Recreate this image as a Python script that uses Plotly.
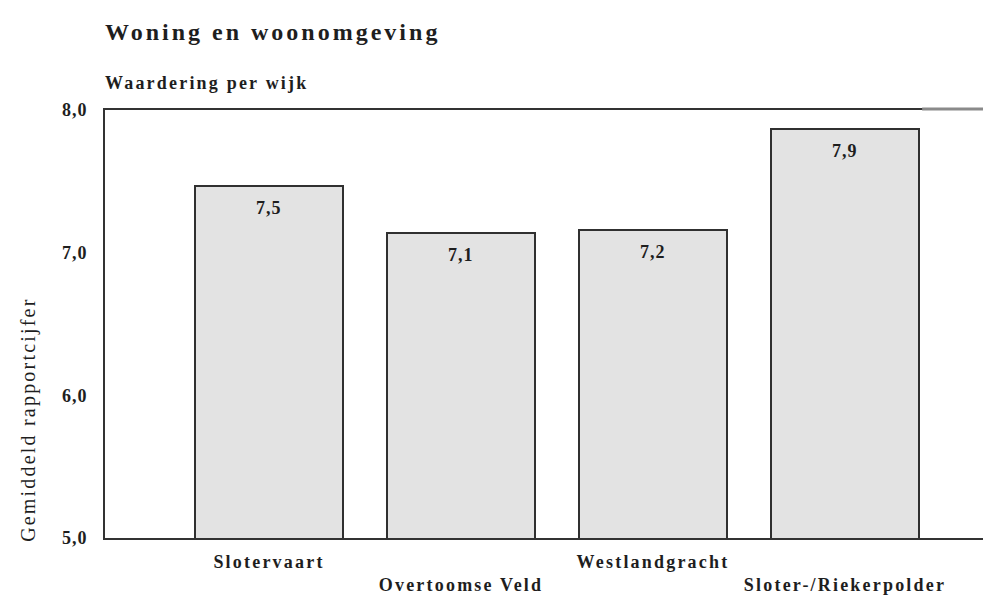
import plotly.graph_objects as go

# Data
categories = ["Slotervaart", "Overtoomse Veld", "Westlandgracht", "Sloter-/Riekerpolder"]
values = [7.47, 7.14, 7.16, 7.87]
value_labels = ["7,5", "7,1", "7,2", "7,9"]
tick_values = [5, 6, 7, 8]
tick_labels = ["5,0", "6,0", "7,0", "8,0"]

SERIF = "Liberation Serif, Times New Roman, serif"
INK = "#1e1e1e"


def spaced(txt, px, bold=True):
    inner = '<span style="letter-spacing:%.1fpx">%s</span>' % (px, txt)
    return "<b>" + inner + "</b>" if bold else inner


x_pos = list(range(len(categories)))
tick_text = [spaced(c, 2.2) if i % 2 == 0 else "<br>" + spaced(c, 2.2) for i, c in enumerate(categories)]
y_tick_text = [spaced(t, 1.0) for t in tick_labels]

fig = go.Figure()
fig.add_trace(go.Bar(
    x=x_pos, y=values, base=0,
    width=0.77,
    marker=dict(color="#e3e3e3", line=dict(color="#303030", width=2)),
    hoverinfo="skip",
))

for xi, v, lab in zip(x_pos, values, value_labels):
    fig.add_annotation(x=xi, y=v, xref="x", yref="y", text=spaced(lab, 1.0),
                       showarrow=False, yshift=-22,
                       font=dict(family=SERIF, size=18, color=INK))

fig.update_layout(
    width=991, height=598,
    paper_bgcolor="white", plot_bgcolor="white",
    margin=dict(l=97, r=0, t=102, b=68),
    showlegend=False,
    bargap=0,
    xaxis=dict(
        range=[-0.854, 3.802],
        tickvals=x_pos, ticktext=tick_text,
        tickfont=dict(family=SERIF, size=18, color=INK),
        showline=True, linecolor="#333333", linewidth=2, mirror=True,
        showgrid=False, zeroline=False,
        ticks="outside", ticklen=6, tickcolor="rgba(0,0,0,0)",
        fixedrange=True,
    ),
    yaxis=dict(
        range=[5, 8],
        tickvals=tick_values, ticktext=y_tick_text,
        tickfont=dict(family=SERIF, size=18, color=INK),
        showline=True, linecolor="#333333", linewidth=2,
        showgrid=False, zeroline=False,
        ticks="outside", ticklen=12, tickcolor="rgba(0,0,0,0)",
        fixedrange=True,
    ),
)

# lighter tail of the top frame line (as in the scanned original)
fig.add_shape(type="line", xref="paper", yref="paper", ysizemode="pixel", yanchor=1,
              x0=0.914, x1=1.0, y0=1, y1=1,
              line=dict(color="#8a8a8a", width=3), layer="above")

# Titles
fig.add_annotation(
    x=0, y=1, xref="paper", yref="paper", xanchor="left", yanchor="middle",
    yshift=78, xshift=-2,
    text=spaced("Woning en woonomgeving", 3.0), showarrow=False,
    font=dict(family=SERIF, size=24, color=INK),
)
fig.add_annotation(
    x=0, y=1, xref="paper", yref="paper", xanchor="left", yanchor="middle",
    yshift=27, xshift=-2,
    text=spaced("Waardering per wijk", 2.2), showarrow=False,
    font=dict(family=SERIF, size=18, color=INK),
)
fig.add_annotation(
    x=0, y=0.276, xref="paper", yref="paper", xanchor="center", yanchor="middle",
    xshift=-76, textangle=-90,
    text=spaced("Gemiddeld rapportcijfer", 2.2, bold=False), showarrow=False,
    font=dict(family=SERIF, size=20, color=INK),
)

fig.write_html("out.html")
